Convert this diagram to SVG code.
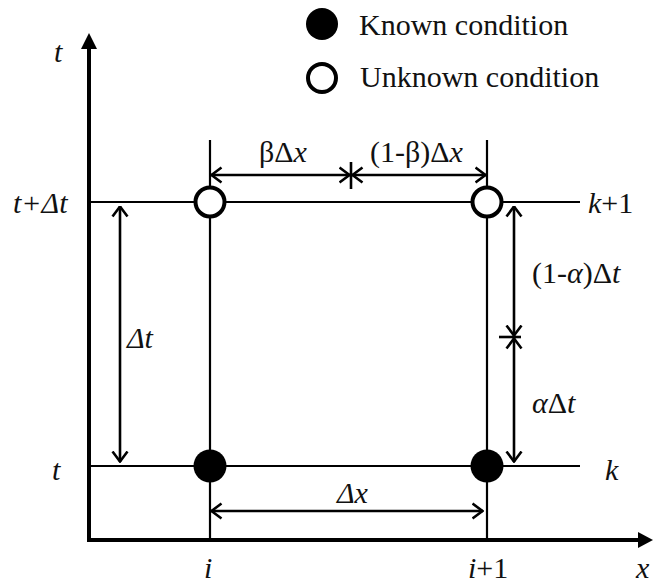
<svg xmlns="http://www.w3.org/2000/svg" width="653" height="586" viewBox="0 0 653 586">
<style>
text{font-family:'Liberation Serif','DejaVu Serif',serif;font-size:30px;fill:#111}
.i{font-style:italic}
.thin{stroke:#000;stroke-width:2.2;fill:none}
.dim{stroke:#000;stroke-width:2.6;fill:none}
.axis{stroke:#000;stroke-width:4;fill:none}
</style>
<defs>
<marker id="arr" viewBox="0 0 12 18" refX="11.5" refY="9" markerWidth="12" markerHeight="18" orient="auto-start-reverse" markerUnits="userSpaceOnUse">
<path d="M1,1.5 L11,9 L1,16.5" fill="none" stroke="#000" stroke-width="2.6"/>
</marker>
</defs>
<g id="axes">
<line class="axis" x1="89" y1="46" x2="89" y2="540"/>
<path d="M89,33 L97,49 L81,49 Z" fill="#000"/>
<line class="axis" x1="87" y1="540" x2="640" y2="540"/>
<path d="M653,540 L638,532 L638,548 Z" fill="#000"/>
</g>
<g id="grid">
<line class="thin" x1="89" y1="202" x2="580" y2="202"/>
<line class="thin" x1="89" y1="466" x2="580" y2="466"/>
<line class="thin" x1="210" y1="140" x2="210" y2="540"/>
<line class="thin" x1="487" y1="140" x2="487" y2="540"/>
</g>
<g id="connectors">
<line class="dim" x1="120" y1="206" x2="120" y2="462" marker-start="url(#arr)" marker-end="url(#arr)"/>
<line class="dim" x1="514" y1="206" x2="514" y2="336" marker-start="url(#arr)" marker-end="url(#arr)"/>
<line class="dim" x1="514" y1="338" x2="514" y2="462" marker-start="url(#arr)" marker-end="url(#arr)"/>
<line class="dim" x1="499" y1="337" x2="521" y2="337"/>
<line class="dim" x1="211" y1="175" x2="350" y2="175" marker-start="url(#arr)" marker-end="url(#arr)"/>
<line class="dim" x1="352" y1="175" x2="486" y2="175" marker-start="url(#arr)" marker-end="url(#arr)"/>
<line class="dim" x1="351" y1="162" x2="351" y2="189"/>
<line class="dim" x1="211" y1="511" x2="483" y2="511" marker-start="url(#arr)" marker-end="url(#arr)"/>
</g>
<g id="node-i-k1"><circle cx="210" cy="202" r="14.5" fill="#fff" stroke="#000" stroke-width="4"/></g>
<g id="node-i1-k1"><circle cx="487" cy="202" r="14.5" fill="#fff" stroke="#000" stroke-width="4"/></g>
<g id="node-i-k"><circle cx="210" cy="466" r="16.5" fill="#000"/></g>
<g id="node-i1-k"><circle cx="487" cy="466" r="16.5" fill="#000"/></g>
<g id="legend">
<circle cx="322" cy="24" r="16" fill="#000"/>
<text x="359" y="35">Known condition</text>
<circle cx="322" cy="78" r="14" fill="#fff" stroke="#000" stroke-width="4"/>
<text x="360" y="87">Unknown condition</text>
</g>
<g id="labels">
<text class="i" x="54" y="62">t</text>
<text class="i" x="13" y="213">t+Δt</text>
<text class="i" x="52" y="480">t</text>
<text class="i" x="127" y="348">Δt</text>
<text x="259" y="162">βΔ<tspan class="i">x</tspan></text>
<text x="370" y="162">(1-β)Δ<tspan class="i">x</tspan></text>
<text x="532" y="283">(1-<tspan class="i">α</tspan>)Δ<tspan class="i">t</tspan></text>
<text x="532" y="413"><tspan class="i">α</tspan>Δ<tspan class="i">t</tspan></text>
<text x="588" y="213"><tspan class="i">k</tspan>+1</text>
<text class="i" x="605" y="480">k</text>
<text class="i" x="337" y="503">Δx</text>
<text class="i" x="204" y="578">i</text>
<text x="468" y="578"><tspan class="i">i</tspan>+1</text>
<text class="i" x="636" y="578">x</text>
</g>
</svg>
